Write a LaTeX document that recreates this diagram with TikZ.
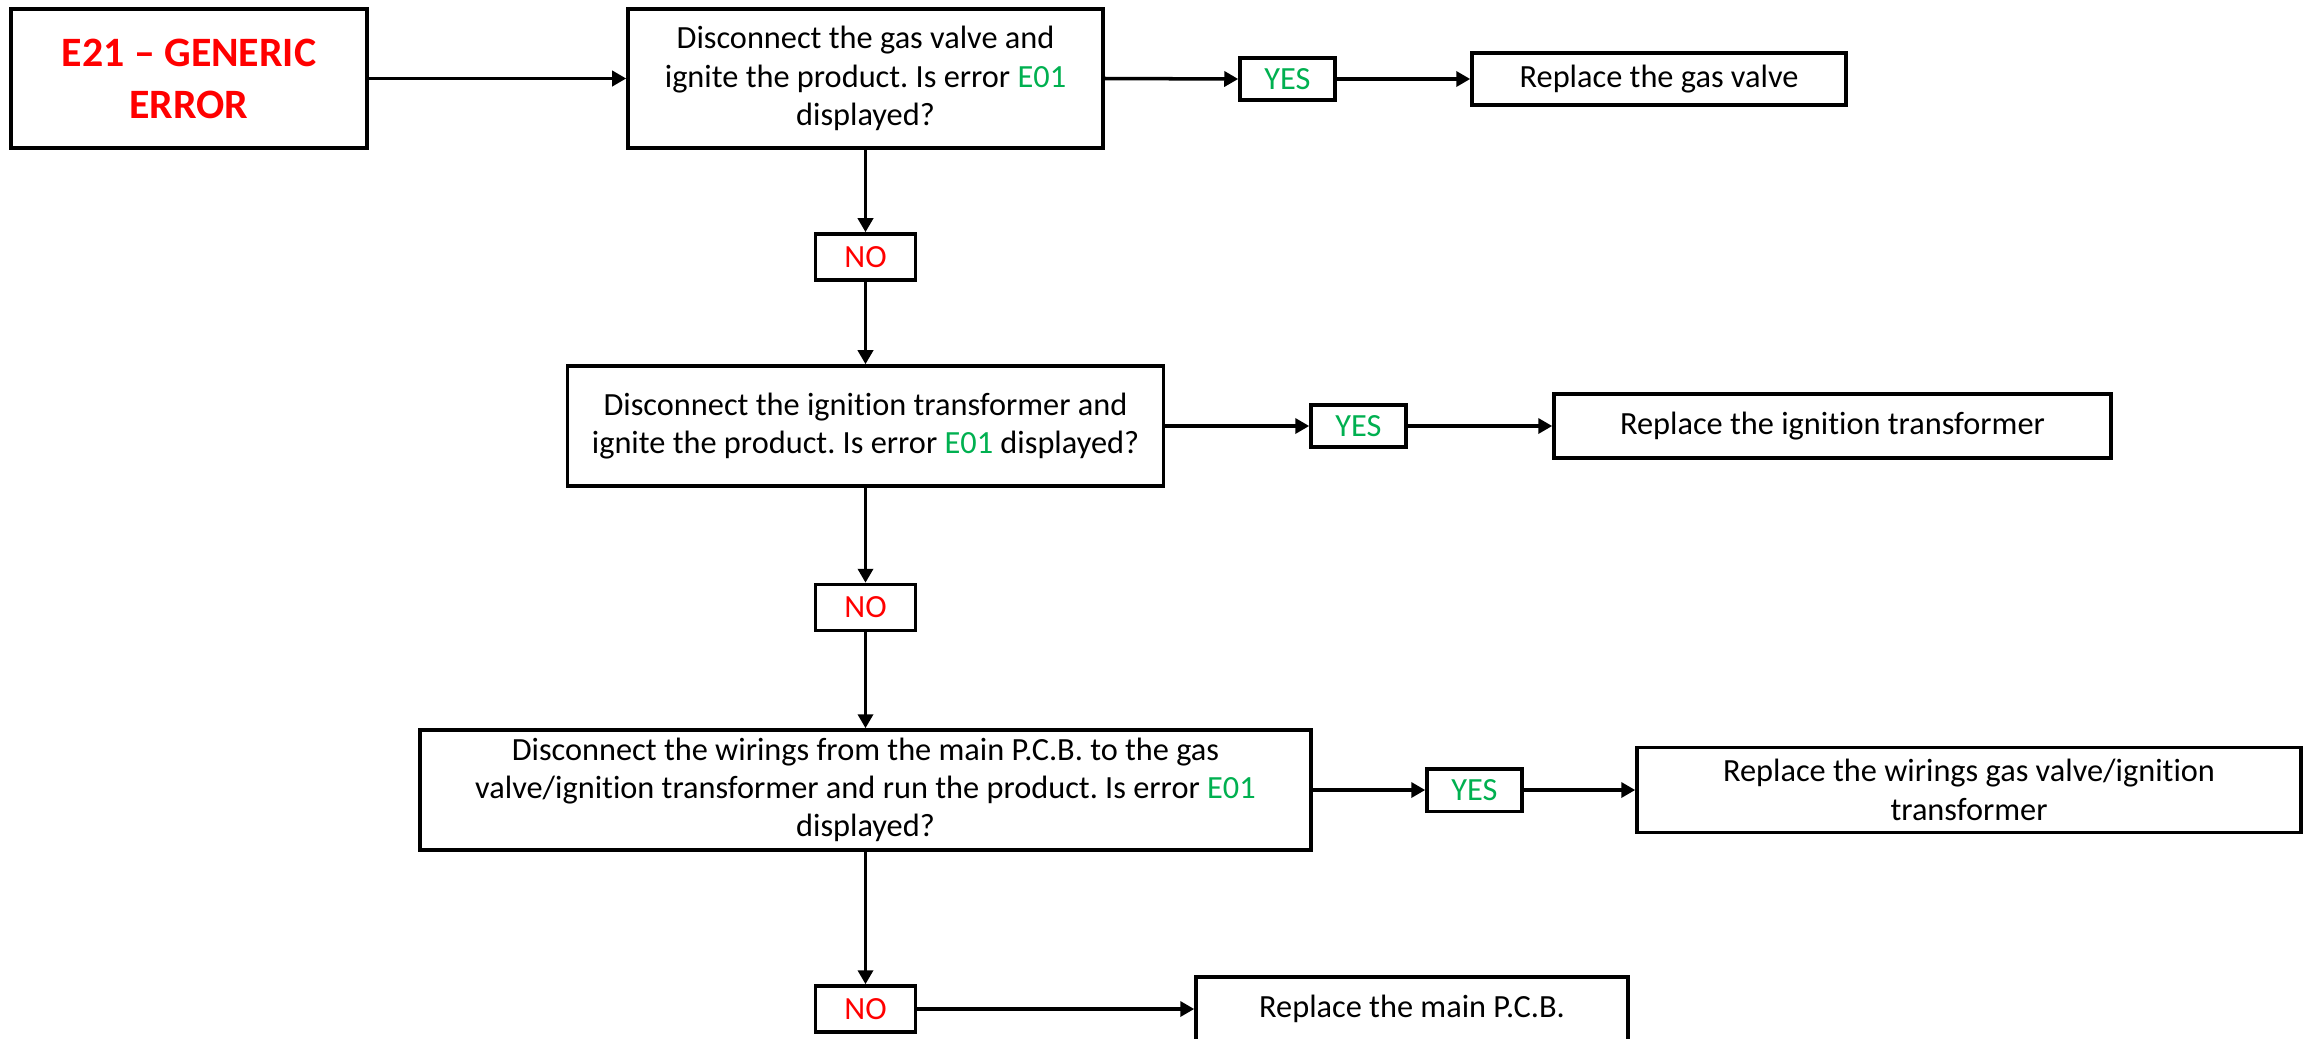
\documentclass[tikz,border=0pt]{standalone}
\usepackage{fontspec}
\setmainfont{Carlito}[Ligatures={TeX,NoCommon}]
\usetikzlibrary{arrows.meta}
\definecolor{yesgreen}{HTML}{00B050}
\definecolor{nored}{HTML}{FF0000}
\frenchspacing
\tikzset{
	flownode/.style = {
		rectangle,
		align=center,
		inner sep=0pt,
		draw=black,
		fill=white,
		line width=2pt,
		font=\fontsize{18.4}{21.8}\selectfont
	},
	node_err/.style = {
		flownode,
		text=nored,
		font=\fontsize{23.8}{29.6}\selectfont\bfseries,
		minimum width=7.12cm,
		minimum height=2.78cm
	},
	node_q/.style = {
		flownode,
		minimum height=2.4cm
	},
	node_r/.style = {
		flownode,
		minimum height=1.04cm
	},
	node_yes/.style = {
		flownode,
		text=yesgreen,
		minimum width=1.9cm,
		minimum height=0.85cm
	},
	node_no/.style = {
		flownode,
		text=nored,
		minimum width=2.0cm,
		minimum height=0.92cm
	},
}

\begin{document}
\begin{tikzpicture}[->,>={Triangle[length=0.28cm,width=0.3cm]},line width=2pt]
\useasboundingbox (0,0) rectangle (46.26,-20.78);
\node [node_err] (err) at (3.78,-1.57) {E21 -- GENERIC\\ERROR};
\node [node_q, minimum width=9.5cm, minimum height=2.78cm] (q1) at (17.31,-1.57)
	{Disconnect the gas valve and\\ignite the product. Is error \textcolor{yesgreen}{E01}\\displayed?};
\node [node_yes] (yes1) at (25.75,-1.58) {YES};
\node [node_r, minimum width=7.48cm] (r1) at (33.18,-1.58) {Replace the gas valve};
\node [node_no] (no1) at (17.31,-5.14) {NO};
\node [node_q, minimum width=11.92cm] (q2) at (17.31,-8.52)
	{Disconnect the ignition transformer and\\ignite the product. Is error \textcolor{yesgreen}{E01} displayed?};
\node [node_yes] (yes2) at (27.17,-8.52) {YES};
\node [node_r, minimum width=11.14cm, minimum height=1.28cm] (r2) at (36.65,-8.52) {Replace the ignition transformer};
\node [node_no] (no2) at (17.31,-12.15) {NO};
\node [node_q, minimum width=17.82cm] (q3) at (17.31,-15.8)
	{Disconnect the wirings from the main P.C.B. to the gas\\valve/ignition transformer and run the product. Is error \textcolor{yesgreen}{E01}\\displayed?};
\node [node_yes] (yes3) at (29.49,-15.8) {YES};
\node [node_r, minimum width=13.28cm, minimum height=1.7cm] (r3) at (39.38,-15.8) {Replace the wirings gas valve/ignition\\transformer};
\node [node_no] (no3) at (17.31,-20.18) {NO};
\node [node_r, minimum width=8.64cm, minimum height=1.28cm] (r4) at (28.24,-20.18) {Replace the main P.C.B.};

% first question
\draw (err.east) -- (q1.west);
\draw (q1.east) -- (yes1.west);
\draw (yes1.east) -- (r1.west);
\draw (q1.south) -- (no1.north);
\draw (no1.south) -- (q2.north);
% second question
\draw (q2.east) -- (yes2.west);
\draw (yes2.east) -- (r2.west);
\draw (q2.south) -- (no2.north);
\draw (no2.south) -- (q3.north);
% third question
\draw (q3.east) -- (yes3.west);
\draw (yes3.east) -- (r3.west);
\draw (q3.south) -- (no3.north);
\draw (no3.east) -- (r4.west);
\end{tikzpicture}
\end{document}
